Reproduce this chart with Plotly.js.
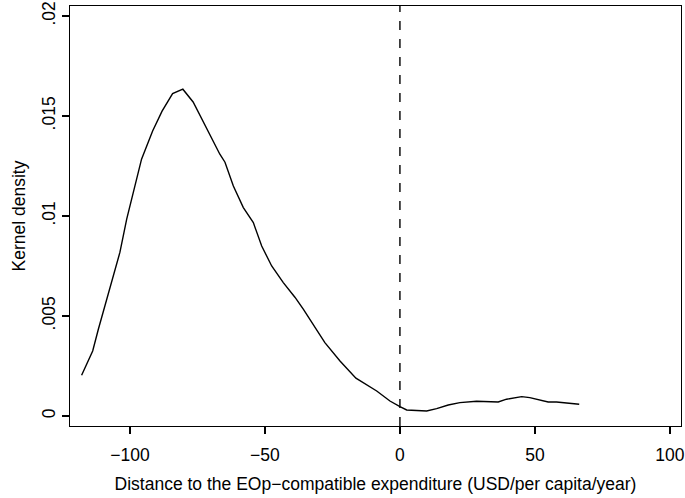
<!DOCTYPE html>
<html>
<head>
<meta charset="utf-8">
<script src="https://cdn.plot.ly/plotly-3.0.1.min.js"></script>
<style>html,body{margin:0;padding:0;background:#fff;}#chart{width:685px;height:498px;}</style>
</head>
<body>
<div id="chart"></div>
<script>
const distance = [-117.9,-113.8,-111.7,-109.9,-106.8,-103.7,-101.2,-99.4,-95.7,-91.6,-88.1,-84.2,-80.4,-76.6,-73.0,-69.3,-66.7,-64.8,-61.7,-58.0,-54.3,-51.2,-47.5,-43.2,-38.9,-35.8,-27.8,-22.2,-16.3,-8.6,-3.7,0.0,2.5,9.9,13.6,17.9,22.2,28.4,36.4,39.5,45.1,48.1,54.9,58.0,63.0,66.4];
const density = [0.00204,0.00325,0.00434,0.00519,0.00669,0.00819,0.00984,0.01084,0.01284,0.01425,0.01524,0.01612,0.01634,0.01570,0.01474,0.01379,0.01309,0.01269,0.0115,0.01042,0.00967,0.0085,0.0075,0.00667,0.00594,0.00534,0.00367,0.00275,0.00189,0.00125,0.00075,0.00047,0.0003,0.00025,0.00037,0.00055,0.00067,0.00074,0.0007,0.00084,0.00097,0.00092,0.0007,0.0007,0.00064,0.00059];
const xTickVals = [-100,-50,0,50,100];
const xTickText = ['\u2212100','\u221250','0','50','100'];
const yTickVals = [0,0.005,0.01,0.015,0.02];
const yTickText = ['0','.005','.01','.015','.02'];
const referenceX = [0];

const font = {family:'Liberation Sans, Arial, Helvetica, sans-serif', color:'#000'};
const fs = 17.5;
const trace = {x:distance, y:density, type:'scatter', mode:'lines', line:{color:'#000', width:1.4}, hoverinfo:'none'};
const layout = {
  width:685, height:498,
  margin:{l:70, r:4, t:6, b:72},
  paper_bgcolor:'#fff', plot_bgcolor:'#fff',
  showlegend:false,
  font: Object.assign({size:fs}, font),
  xaxis:{range:[-122.2,104.1], tickvals:xTickVals, ticktext:xTickText, ticks:'outside', ticklen:7, tickwidth:1.2, tickcolor:'#000',
    ticklabelstandoff:6,
    showline:true, linecolor:'#000', linewidth:1.3, mirror:true, showgrid:false, zeroline:false,
    tickfont:Object.assign({size:fs}, font),
    title:{text:'Distance to the EOp\u2212compatible expenditure (USD/per capita/year)', font:Object.assign({size:fs}, font), standoff:13}},
  yaxis:{range:[-0.0005,0.0205], tickvals:yTickVals, ticktext:yTickText, ticks:'outside', ticklen:7, tickwidth:1.2, tickcolor:'#000',
    tickangle:-90, showline:true, linecolor:'#000', linewidth:1.3, mirror:true, showgrid:false, zeroline:false,
    tickfont:Object.assign({size:fs}, font),
    title:{text:'Kernel density', font:Object.assign({size:fs}, font), standoff:8}},
  shapes: referenceX.map(v => ({type:'line', xref:'x', yref:'paper', x0:v, x1:v, y0:0, y1:1, line:{color:'#000', width:1.4, dash:'dash'}}))
};
Plotly.newPlot('chart', [trace], layout, {staticPlot:true});
</script>
</body>
</html>
